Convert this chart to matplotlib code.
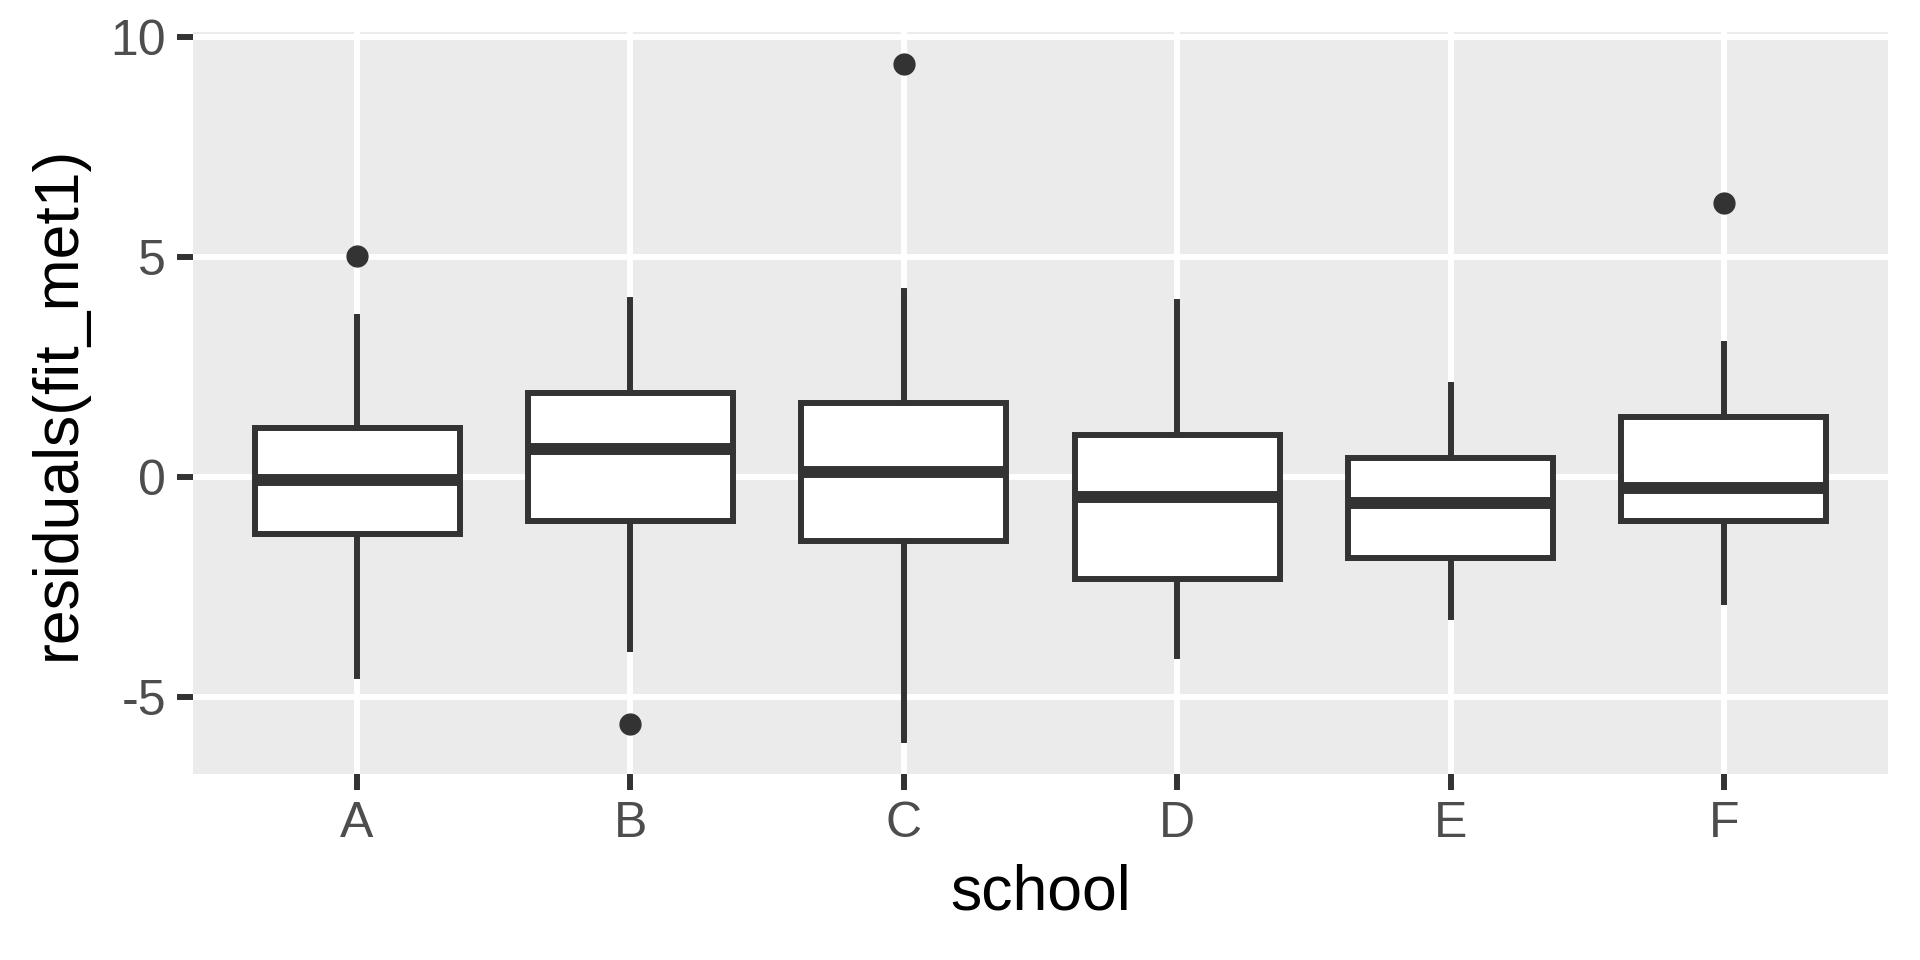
from matplotlib import pyplot as plt

plt.rcParams['font.family'] = ['Liberation Sans', 'DejaVu Sans']

# values
schools = ['A', 'B', 'C', 'D', 'E', 'F']
q1 = [-1.30, -1.00, -1.45, -2.32, -1.84, -1.00]
med = [-0.07, 0.64, 0.11, -0.45, -0.59, -0.25]
q3 = [1.12, 1.90, 1.68, 0.95, 0.42, 1.37]
whislo = [-4.52, -3.91, -5.98, -4.08, -3.18, -2.85]
whishi = [3.63, 4.02, 4.22, 3.97, 2.09, 3.02]
fliers = [[5.03], [-5.61], [9.39], [], [], [6.23]]

stats = []
for i, s in enumerate(schools):
    stats.append(dict(label=s, q1=q1[i], med=med[i], q3=q3[i],
                      whislo=whislo[i], whishi=whishi[i], fliers=fliers[i]))

fig = plt.figure(dpi=100, figsize=(19.2, 9.6))
# panel: x 193..1888 px, y 32..774 px
ax = fig.add_axes([193 / 1920, 1 - 774 / 960, 1695 / 1920, 742 / 960])
ax.set_facecolor('#EBEBEB')

dark = '#333333'
ax.bxp(stats, positions=range(1, 7), widths=0.75, showcaps=False,
       patch_artist=True,
       boxprops=dict(facecolor='white', edgecolor=dark, linewidth=4.3),
       medianprops=dict(color=dark, linewidth=8.6, solid_capstyle='butt'),
       whiskerprops=dict(color=dark, linewidth=4.3),
       flierprops=dict(marker='o', markerfacecolor=dark, markeredgecolor=dark,
                       markersize=15))

ax.set_xlim(0.4, 6.6)
ax.set_ylim(-6.75, 10.11)
ax.set_yticks([-5, 0, 5, 10])
ax.set_yticklabels(['-5', '0', '5', '10'])
ax.set_xticks(range(1, 7))
ax.set_xticklabels(schools)

ax.grid(True, color='white', linewidth=4.3)
ax.set_axisbelow(True)
for sp in ax.spines.values():
    sp.set_visible(False)

ax.tick_params(axis='both', which='major', labelsize=36, colors='#4D4D4D',
               length=11.5, width=4.3, pad=8)
ax.tick_params(axis='both', color=dark)

ax.set_xlabel('school', fontsize=45, labelpad=12)
ax.set_ylabel('residuals(fit_met1)', fontsize=45, labelpad=16)

fig.savefig('out.png')
